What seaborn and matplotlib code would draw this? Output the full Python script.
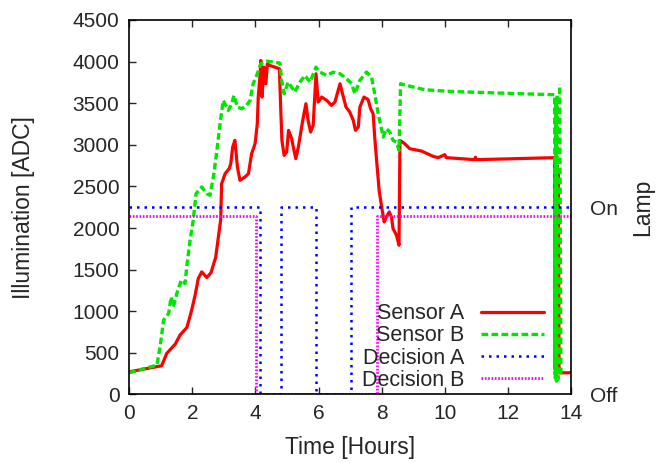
import pandas as pd
import seaborn as sb
from matplotlib import pyplot as plt

# * data (time in hours, illumination in ADC counts)
sensor_a_t = [0, 1.03, 1.19, 1.46, 1.61, 1.83, 1.98, 2.09, 2.19, 2.30, 2.46, 2.59, 2.74, 2.83, 2.90,
              2.93, 3.04, 3.17, 3.22, 3.28, 3.35, 3.43, 3.51, 3.67, 3.78, 3.88, 3.99, 4.06, 4.09, 4.15,
              4.17, 4.21, 4.27, 4.33, 4.38, 4.46, 4.76, 4.80, 4.84, 4.91, 4.99, 5.05, 5.15, 5.20, 5.28,
              5.36, 5.50, 5.60, 5.67, 5.75, 5.83, 5.92, 5.99, 6.10, 6.26, 6.41, 6.52, 6.68, 6.76, 6.87,
              6.99, 7.10, 7.17, 7.26, 7.31, 7.44, 7.57, 7.65, 7.73, 7.78, 7.84, 7.92, 8.00, 8.08, 8.15,
              8.24, 8.31, 8.36, 8.47, 8.55, 8.58, 8.73, 8.89, 9.26, 9.63, 9.79, 10.0, 10.05, 10.95,
              10.97, 11.0, 13.48, 13.50, 13.52, 13.54, 13.56, 13.58, 13.60, 13.62, 14.0]
sensor_a_v = [272, 345, 493, 605, 713, 805, 1013, 1193, 1393, 1473, 1405, 1461, 1645, 1900, 2100,
              2533, 2653, 2713, 2773, 2973, 3053, 2733, 2573, 2613, 2653, 2893, 3013, 3253, 3573, 3853,
              4013, 3573, 3933, 3733, 3973, 3953, 3913, 3453, 3053, 2873, 2913, 3173, 3073, 2973, 2833,
              2973, 3293, 3493, 3293, 3153, 3233, 3853, 3513, 3573, 3533, 3473, 3513, 3733, 3613, 3453,
              3393, 3293, 3173, 3213, 3453, 3573, 3543, 3433, 3373, 3093, 2813, 2453, 2253, 2073, 2133,
              2193, 2133, 1993, 1913, 1793, 3053, 3013, 2953, 2925, 2861, 2845, 2881, 2845, 2821,
              2850, 2821, 2845, 300, 2800, 260, 2750, 280, 2700, 260, 261]

sensor_b_t = [0, 0.88, 0.98, 1.09, 1.25, 1.33, 1.40, 1.51, 1.65, 1.77, 1.83, 1.93, 2.03, 2.12, 2.30,
              2.46, 2.56, 2.67, 2.78, 2.88, 2.98, 3.14, 3.25, 3.32, 3.43, 3.57, 3.72, 3.83, 3.93, 4.06,
              4.17, 4.36, 4.78, 4.83, 4.91, 5.04, 5.25, 5.41, 5.57, 5.73, 5.92, 6.04, 6.26, 6.47, 6.68,
              6.89, 7.05, 7.15, 7.31, 7.52, 7.68, 7.78, 7.89, 8.05, 8.15, 8.26, 8.36, 8.47, 8.55, 8.60,
              8.79, 9.37, 10.16, 11.74, 13.48, 13.50, 13.52, 13.54, 13.56, 13.58, 13.60, 13.68, 13.64]
sensor_b_v = [261, 353, 573, 893, 973, 1173, 1053, 1213, 1373, 1333, 1553, 1853, 2093, 2413, 2493,
              2413, 2393, 2613, 2933, 3253, 3533, 3413, 3493, 3593, 3453, 3433, 3473, 3533, 3733, 3853,
              3973, 4005, 3981, 3773, 3613, 3753, 3633, 3753, 3833, 3753, 3933, 3873, 3833, 3873, 3853,
              3793, 3733, 3613, 3773, 3873, 3813, 3613, 3373, 3093, 3193, 3153, 3053, 3033, 2933, 3733,
              3713, 3661, 3641, 3621, 3601, 200, 3550, 160, 3600, 180, 240, 240, 3730]

# lamp decisions, drawn on the same scale (on level / off = 0)
decision_a_t = [0, 4.15, 4.15, 4.82, 4.82, 5.92, 5.92, 7.04, 7.04, 14]
decision_a_v = [2250, 2250, 0, 0, 2250, 2250, 0, 0, 2250, 2250]
decision_b_t = [0, 4.02, 4.02, 7.85, 7.85, 14]
decision_b_v = [2140, 2140, 0, 0, 2140, 2140]

lamp_ticks = [0, 2250]
lamp_labels = ["Off", "On"]

# * theme
sb.set_theme(style="ticks")
plt.rcParams["font.family"] = ["Liberation Sans", "DejaVu Sans"]
plt.rcParams["font.size"] = 15

fig = plt.figure(figsize=(6.59, 4.63), dpi=100)
ax = fig.add_axes([0.196, 0.148, 0.6705, 0.809])

series = [
    ("Sensor A", sensor_a_t, sensor_a_v, "#ff0000", "-", 2.3),
    ("Sensor B", sensor_b_t, sensor_b_v, "#00e600", (0, (2, 1)), 2.4),
    ("Decision A", decision_a_t, decision_a_v, "#0000ff", (0, (1, 2)), 1.8),
    ("Decision B", decision_b_t, decision_b_v, "#ff00ff", (0, (0.6, 0.6)), 2.0),
]
for name, t, v, color, ls, lw in series:
    df = pd.DataFrame({"t": t, "v": v})
    sb.lineplot(data=df, x="t", y="v", estimator=None, sort=False, color=color,
                linestyle=ls, linewidth=lw, label=name, ax=ax)

ax.set_xlim(0, 14)
ax.set_ylim(0, 4500)
ax.set_xticks(range(0, 15, 2))
ax.set_yticks(range(0, 4501, 500))
ax.tick_params(direction="in", top=True, right=True, length=5, width=1, labelsize=15, pad=7)
for sp in ax.spines.values():
    sp.set_linewidth(1.2)
    sp.set_color("black")
ax.set_xlabel("Time [Hours]", fontsize=16.5, labelpad=9)
ax.set_ylabel("Illumination [ADC]", fontsize=16.5, labelpad=27)

ax.legend(loc="lower right", bbox_to_anchor=(0.972, -0.031), frameon=False, markerfirst=False,
          handlelength=2.9, handletextpad=0.8, labelspacing=0.06, borderpad=0.2, fontsize=15.5)

# * right axis: lamp state
ax2 = ax.twinx()
ax2.set_ylim(0, 4500)
ax2.set_yticks(lamp_ticks, lamp_labels)
ax2.tick_params(length=0, labelsize=15, pad=14)
ax2.set_ylabel("Lamp", fontsize=16.5, labelpad=9)
for sp in ax2.spines.values():
    sp.set_visible(False)

plt.savefig("out.png", dpi=100)
plt.close()
